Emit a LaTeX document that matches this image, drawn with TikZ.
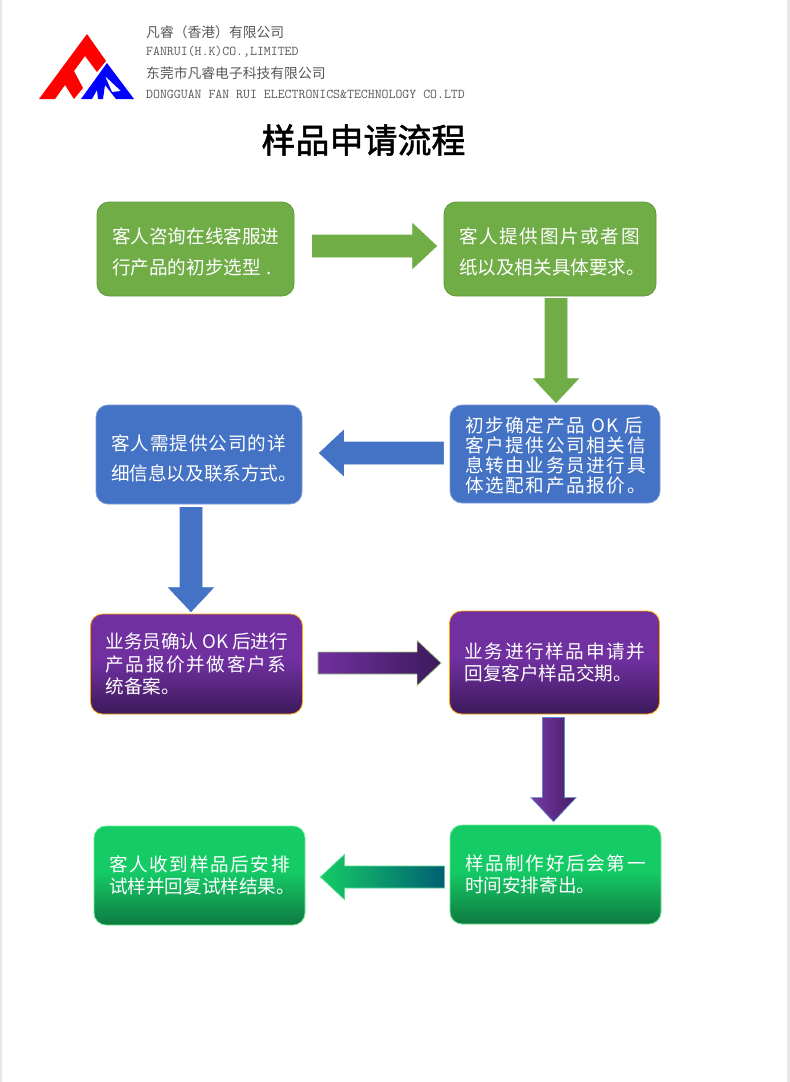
\documentclass[tikz,border=0pt]{standalone}
\usepackage{fontspec}
\setmainfont{Noto Sans CJK SC}
\newfontfamily\titlefont[FakeBold=1.5]{Noto Sans CJK SC}
\usetikzlibrary{calc}

\definecolor{leafgreen}{HTML}{70AD47}
\definecolor{leafedge}{HTML}{5F9A3B}
\definecolor{steelblue}{HTML}{4472C4}
\definecolor{steeledge}{HTML}{7C9AD6}
\definecolor{plumtop}{HTML}{7030A0}
\definecolor{plumlow}{HTML}{3C1A5B}
\definecolor{mintop}{HTML}{15CB66}
\definecolor{mintlow}{HTML}{0E7A41}
\definecolor{tealend}{HTML}{005F73}

\pgfdeclareverticalshading{plumband}{100bp}{color(0bp)=(plumlow); color(25bp)=(plumlow); color(52bp)=(plumtop); color(100bp)=(plumtop)}
\pgfdeclareverticalshading{mintband}{100bp}{color(0bp)=(mintlow); color(25bp)=(mintlow); color(52bp)=(mintop); color(100bp)=(mintop)}

\tikzset{
    flowbox/.style = {rounded corners=12pt, inner xsep=15pt, inner ysep=0pt, align=left, text=white, line width=0.8pt, font=\fontsize{18.6}{22.5}\selectfont},
    greenbox/.style = {flowbox, fill=leafgreen, draw=leafedge},
    bluebox/.style = {flowbox, fill=steelblue, draw=steeledge},
    plumbox/.style = {flowbox, shade, shading=plumband, draw=orange!70!yellow},
    mintbox/.style = {flowbox, shade, shading=mintband, draw=green!30!mintop!60!white},
    headline/.style = {anchor=west, inner sep=0pt, text=black!66},
}

% letter spaced line
\newcommand{\spaced}[2]{{\addfontfeatures{LetterSpace=#1}#2}}

% block arrow: style, from, to, gap at tail, gap at tip
\newcommand{\flowarrow}[5]{
    \coordinate (tailpt) at ($#2!#4pt!#3$);
    \coordinate (tippt) at ($#3!#5pt!#2$);
    \coordinate (neckpt) at ($(tippt)!24pt!(tailpt)$);
    \path[#1, line width=0.7pt] ($(tailpt)!11pt!90:(tippt)$) -- ($(neckpt)!11pt!90:(tippt)$)
        -- ($(neckpt)!22.5pt!90:(tippt)$) -- (tippt) -- ($(neckpt)!22.5pt!-90:(tippt)$)
        -- ($(neckpt)!11pt!-90:(tippt)$) -- ($(tailpt)!11pt!-90:(tippt)$) -- cycle;
}

\begin{document}
\begin{tikzpicture}[x=1pt,y=-1pt]
    \useasboundingbox (0,0) rectangle (790,1082);
    \fill[black!9] (0,0) rectangle (2,1082);
    \fill[black!9] (787,0) rectangle (790,1082);

    % logo
    \fill[red] (87,34) -- (106,61) -- (97,72) -- (85,56) -- (74,71) -- (83,88) -- (74,99)
        -- (65,85) -- (55,99) -- (39,99) -- cycle;
    \fill[blue, even odd rule] (107,63) -- (134,99) -- (116,99) -- (105,85) -- (103,99) -- (98,99)
        -- (97,90) -- (92,99) -- (81,99) -- cycle
        (105,76) -- (121,91) -- (112,92) -- cycle;

    % heading
    \node[headline, font=\fontsize{13.8}{16}\selectfont] (cnhk) at (146,32) {凡睿（香港）有限公司};
    \node[headline, font=\fontsize{13.45}{16}\ttfamily] (enhk) at (146,52) {FANRUI(H.K)CO.,LIMITED};
    \node[headline, font=\fontsize{13.8}{16}\selectfont] (cndg) at (146,73) {东莞市凡睿电子科技有限公司};
    \node[headline, font=\fontsize{13.45}{16}\ttfamily] (endg) at (146,94) {DONGGUAN FAN RUI ELECTRONICS\&TECHNOLOGY CO.LTD};
    \node[inner sep=0pt, font=\fontsize{34}{38}\titlefont] (title) at (363.5,140) {样品申请流程};

    % boxes
    \node[greenbox, text width=167pt, minimum height=94pt, text height=22pt, font=\fontsize{18.6}{30.5}\selectfont] (consult) at (195.5,249)
        {客人咨询在线客服进\\行产品的初步选型 .};
    \node[greenbox, text width=182pt, minimum height=94pt, text height=22pt, font=\fontsize{18.6}{30.5}\selectfont] (drawing) at (550,249)
        {\spaced{9}{客人提供图片或者图}\\纸以及相关具体要求。};
    \node[bluebox, text width=180pt, minimum height=98pt, text height=18pt, font=\fontsize{18.6}{20}\selectfont] (confirm) at (555,454)
        {\spaced{9}{初步确定产品 OK 后}\\\spaced{9}{客户提供公司相关信}\\\spaced{9}{息转由业务员进行具}\\\spaced{9}{体选配和产品报价。}};
    \node[bluebox, text width=176pt, minimum height=99pt, text height=24pt, font=\fontsize{18.6}{30.5}\selectfont] (contact) at (199,454.5)
        {\spaced{5}{客人需提供公司的详}\\细信息以及联系方式。};
    \node[plumbox, text width=182pt, minimum height=100pt] (quote) at (196.5,664)
        {\mbox{业务员确认\hspace{4pt}OK\hspace{4pt}后进行}\\\spaced{9}{产品报价并做客户系}\\统备案。};
    \node[plumbox, text width=180pt, minimum height=103pt] (apply) at (554.5,662.5)
        {\spaced{9}{业务进行样品申请并}\\回复客户样品交期。};
    \node[mintbox, text width=181pt, minimum height=99pt] (receive) at (199.5,875.5)
        {\spaced{9}{客人收到样品后安排}\\试样并回复试样结果。};
    \node[mintbox, text width=181pt, minimum height=99pt] (make) at (555.5,874.5)
        {\spaced{9}{样品制作好后会第一}\\时间安排寄出。};

    % arrows
    \flowarrow{fill=leafgreen, draw=leafgreen}{([yshift=3pt]consult.east)}{([yshift=3pt]drawing.west)}{18}{7}
    \flowarrow{fill=leafgreen, draw=leafgreen}{([xshift=6pt]drawing.south)}{([xshift=1pt]confirm.north)}{2}{2}
    \flowarrow{fill=steelblue, draw=steelblue}{([yshift=1pt]confirm.west)}{([yshift=1.5pt]contact.east)}{6}{17}
    \flowarrow{fill=steelblue, draw=steelblue}{([xshift=-8pt]contact.south)}{([xshift=-5.5pt]quote.north)}{3}{2}
    \flowarrow{left color=plumtop, right color=plumlow, draw=leafgreen!70!white}{([yshift=1pt]quote.east)}{([yshift=-0.5pt]apply.west)}{15}{8}
    \flowarrow{left color=plumtop!95!white, right color=plumlow!85!plumtop, draw=steelblue!85!white}{([xshift=-1pt]apply.south)}{([xshift=-2pt]make.north)}{3}{3}
    \flowarrow{left color=mintop, right color=tealend, draw=mintop!70!white}{([yshift=-2.5pt]make.west)}{([yshift=-1.5pt]receive.east)}{5}{15}
\end{tikzpicture}
\end{document}
